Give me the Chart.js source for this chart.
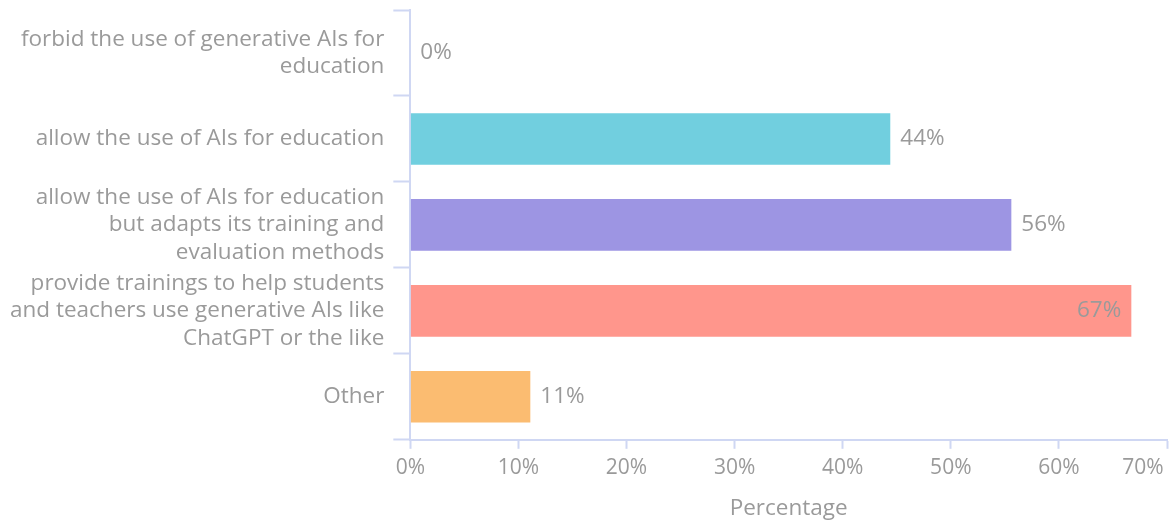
<!DOCTYPE html>
<html lang="en">
  <head>
    <meta charset="utf-8" />
    <title>Survey chart</title>
    <style>
      * {
        margin: 0;
        padding: 0;
      }
      body {
        background: #fff;
      }
      .chartBox {
        width: 1172px;
        height: 523px;
      }
    </style>
  </head>
  <body>
    <div class="chartBox">
      <canvas id="myChart"></canvas>
    </div>

    <script src="https://cdn.jsdelivr.net/npm/chart.js@4/dist/chart.umd.min.js"></script>

    <script>
      const categories = [
        ["forbid the use of generative AIs for", "education"],
        "allow the use of AIs for education",
        ["allow the use of AIs for education", "but adapts its training and", "evaluation methods"],
        ["provide trainings to help students", "and teachers use generative AIs like", "ChatGPT or the like"],
        "Other",
      ];
      const percentages = [0, 44.4, 55.6, 66.7, 11.1];
      const barColors = ["#71cfdf", "#71cfdf", "#9d95e3", "#ff968c", "#fbbc71"];
      const axisColor = "#cfd7f3";
      const textColor = "#9a9a9a";
      const fontFamily = "'Open Sans'";

      // value labels: after the bar, or inside it if it would overflow
      const valueLabels = {
        id: "valueLabels",
        afterDatasetsDraw(chart) {
          const ctx = chart.ctx;
          const meta = chart.getDatasetMeta(0);
          ctx.save();
          ctx.font = "22.5px " + fontFamily;
          ctx.fillStyle = textColor;
          ctx.textBaseline = "middle";
          meta.data.forEach((bar, i) => {
            const txt = Math.round(percentages[i]) + "%";
            const w = ctx.measureText(txt).width;
            if (bar.x + 10 + w > chart.chartArea.right) {
              ctx.textAlign = "right";
              ctx.fillText(txt, bar.x - 10, bar.y);
            } else {
              ctx.textAlign = "left";
              ctx.fillText(txt, bar.x + 10, bar.y);
            }
          });
          ctx.restore();
        },
      };

      const data = {
        labels: categories,
        datasets: [
          {
            data: percentages,
            backgroundColor: barColors,
            categoryPercentage: 0.8,
            barPercentage: 0.75,
          },
        ],
      };

      const config = {
        type: "bar",
        data: data,
        options: {
          indexAxis: "y",
          responsive: true,
          maintainAspectRatio: false,
          animation: false,
          layout: {
            padding: { left: 1, right: 5, top: 10, bottom: -3 },
          },
          plugins: {
            legend: { display: false },
            tooltip: { enabled: false },
          },
          scales: {
            x: {
              min: 0,
              max: 70,
              ticks: {
                stepSize: 10,
                color: textColor,
                font: { family: fontFamily, size: 21 },
                padding: 7,
                // last label sits left of its tick, like the original
                callback: (v) => (v === 70 ? v + "%\u2007\u2007\u2007\u2007" : v + "%"),
              },
              afterFit: (scale) => {
                scale.paddingRight = 0;
              },
              grid: {
                drawOnChartArea: false,
                color: axisColor,
                tickLength: 9,
                tickWidth: 2,
              },
              border: { color: axisColor, width: 2 },
              title: {
                display: true,
                text: "Percentage",
                color: textColor,
                font: { family: fontFamily, size: 22.5 },
                padding: { top: 7 },
              },
            },
            y: {
              ticks: {
                autoSkip: false,
                color: textColor,
                font: { family: fontFamily, size: 22.5, lineHeight: 1.22 },
                padding: 9,
              },
              afterFit: (scale) => {
                scale.paddingTop = 0;
              },
              grid: {
                drawOnChartArea: false,
                color: axisColor,
                tickLength: 17,
                tickWidth: 2,
              },
              border: { color: axisColor, width: 2 },
            },
          },
        },
        plugins: [valueLabels],
      };

      const myChart = new Chart(document.getElementById("myChart"), config);
    </script>
  </body>
</html>
